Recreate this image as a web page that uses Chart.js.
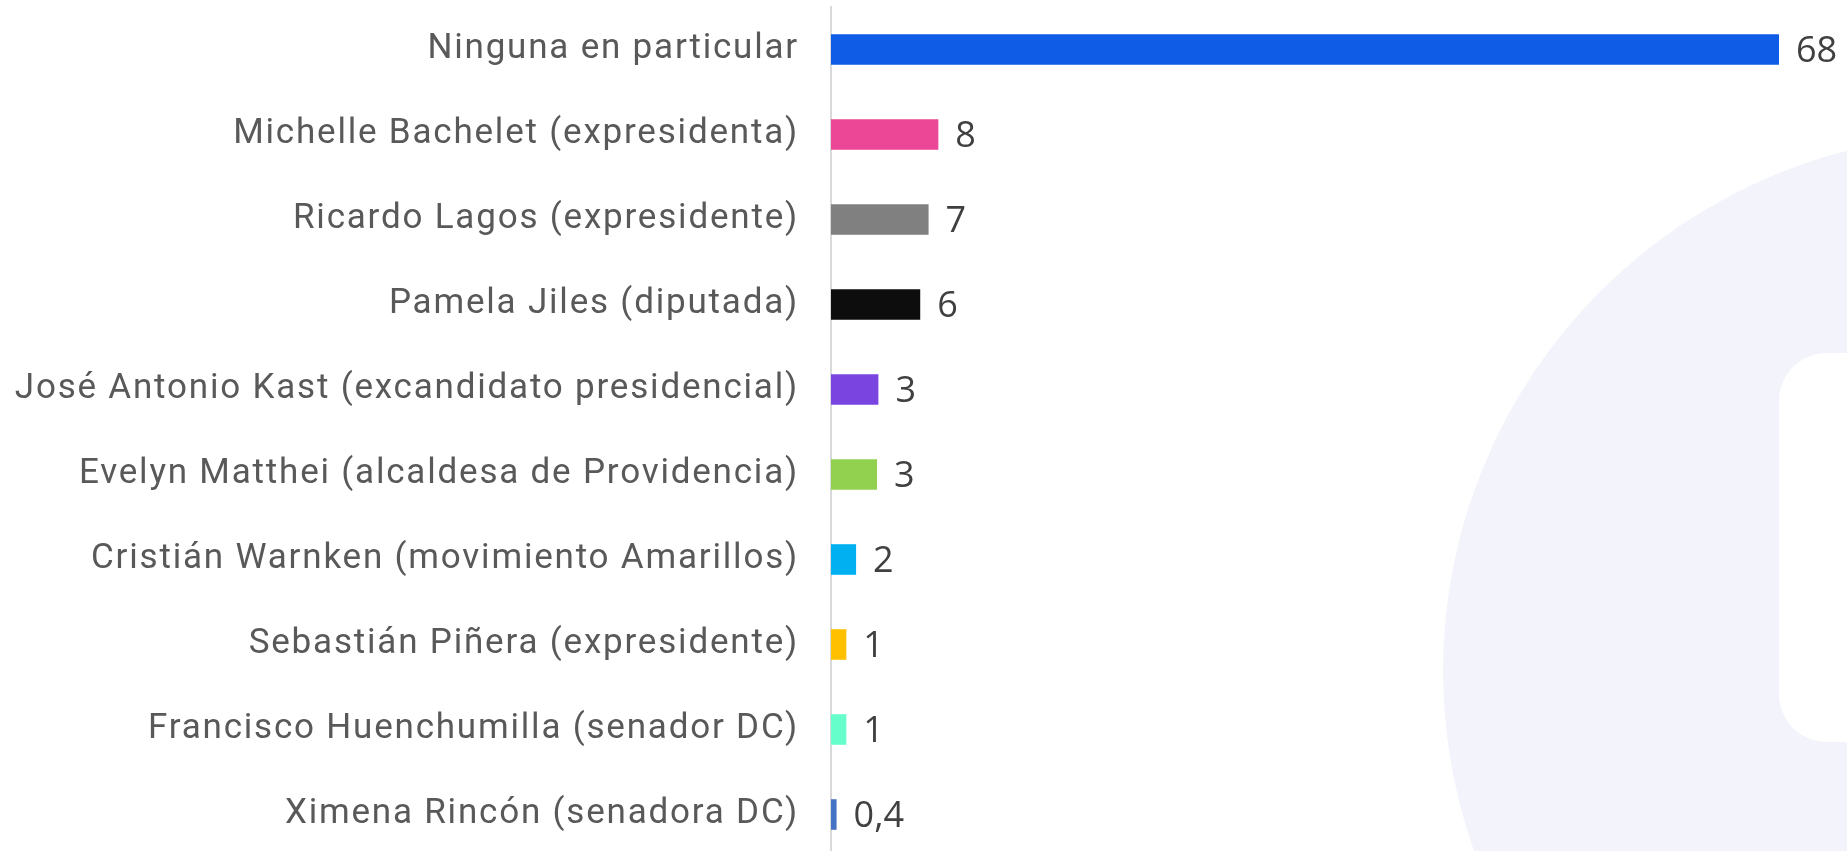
<!DOCTYPE html>
<html>
<head>
<meta charset="utf-8">
<script src="https://cdn.jsdelivr.net/npm/chart.js@4/dist/chart.umd.min.js"></script>
<style>
  html, body { margin: 0; padding: 0; background: #ffffff; overflow: hidden; }
  #wrap { position: relative; width: 1847px; height: 857px; }
</style>
</head>
<body>
<div id="wrap"><canvas id="c"></canvas></div>
<script>
const categories = [
  "Ninguna en particular",
  "Michelle Bachelet (expresidenta)",
  "Ricardo Lagos (expresidente)",
  "Pamela Jiles (diputada)",
  "José Antonio Kast (excandidato presidencial)",
  "Evelyn Matthei (alcaldesa de Providencia)",
  "Cristián Warnken (movimiento Amarillos)",
  "Sebastián Piñera (expresidente)",
  "Francisco Huenchumilla (senador DC)",
  "Ximena Rincón (senadora DC)"
];
const values = [68, 7.7, 7.0, 6.4, 3.4, 3.3, 1.8, 1.1, 1.1, 0.4];
const valueLabels = ["68", "8", "7", "6", "3", "3", "2", "1", "1", "0,4"];
const barColors = ["#0F5CE6", "#EC4697", "#808080", "#0D0D0D", "#7A44E1", "#92D050", "#00B0F0", "#FFC000", "#66FFCC", "#4472C4"];

const bgPlugin = {
  id: 'bg',
  beforeDraw(chart) {
    const ctx = chart.ctx;
    ctx.save();
    ctx.fillStyle = '#f3f4fb';
    ctx.beginPath();
    ctx.arc(1980, 671, 537, 0, Math.PI * 2);
    ctx.fill();
    ctx.fillStyle = '#ffffff';
    ctx.beginPath();
    ctx.roundRect(1779, 353, 200, 389, 48);
    ctx.fill();
    ctx.restore();
    ctx.letterSpacing = '1.8px';
  },
  afterDraw(chart) {
    chart.ctx.letterSpacing = '0px';
  }
};

const valuePlugin = {
  id: 'vals',
  afterDatasetsDraw(chart) {
    const ctx = chart.ctx;
    const meta = chart.getDatasetMeta(0);
    ctx.save();
    ctx.letterSpacing = '0px';
    ctx.font = '36px "Open Sans", Roboto, sans-serif';
    ctx.fillStyle = '#404040';
    ctx.textAlign = 'left';
    ctx.textBaseline = 'middle';
    meta.data.forEach((bar, i) => {
      ctx.fillText(valueLabels[i], bar.x + 17, bar.y + 2);
    });
    ctx.restore();
  }
};

new Chart(document.getElementById('c'), {
  type: 'bar',
  data: {
    labels: categories,
    datasets: [{
      data: values,
      backgroundColor: barColors,
      borderWidth: 0,
      categoryPercentage: 0.36,
      barPercentage: 1.0
    }]
  },
  options: {
    indexAxis: 'y',
    responsive: true,
    maintainAspectRatio: false,
    animation: false,
    layout: { padding: { top: 7, right: 68, bottom: 0, left: 0 } },
    plugins: { legend: { display: false }, tooltip: { enabled: false } },
    scales: {
      x: { display: false, min: 0, max: 68 },
      y: {
        afterFit(scale) { scale.width = 831; scale.paddingTop = 0; scale.paddingBottom = 0; },
        grid: { display: false, drawTicks: false },
        border: { display: true, color: '#d9d9d9', width: 2 },
        ticks: {
          padding: 32,
          color: '#595959',
          font: { family: 'Roboto, "Noto Sans", sans-serif', size: 35 }
        }
      }
    }
  },
  plugins: [bgPlugin, valuePlugin]
});
</script>
</body>
</html>
